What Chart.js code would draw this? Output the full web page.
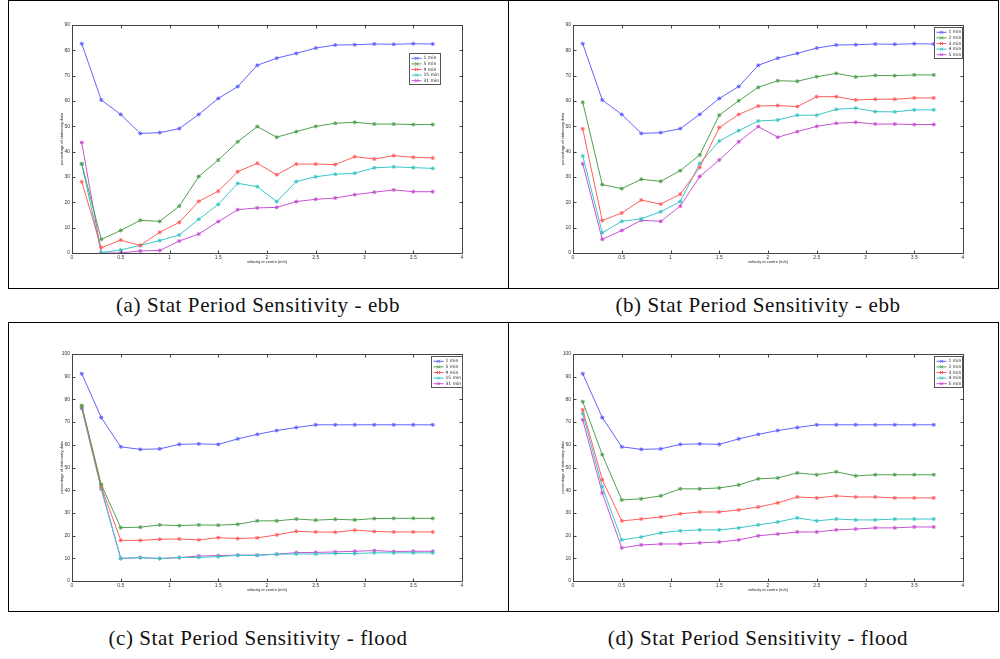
<!DOCTYPE html>
<html lang="en">
<head>
    <meta charset="UTF-8"/>
    <title>Stat Period Sensitivity</title>
    <script src="https://cdn.jsdelivr.net/npm/chart.js"></script>
    <style>
        body { margin: 0; width: 1000px; height: 659px; background: #fff; position: relative; overflow: hidden; }
        .rule { position: absolute; background: #000; }
        .panel { position: absolute; }
        .caption { position: absolute; width: 500px; text-align: center; font-family: "Liberation Serif", serif; font-size: 21px; letter-spacing: 0.6px; color: #111; }
    </style>
</head>
<body>
    <!-- table rules -->
    <div class="rule" style="left:8px; top:0; width:991px; height:1px"></div>
    <div class="rule" style="left:8px; top:288px; width:991px; height:1px"></div>
    <div class="rule" style="left:8px; top:0; width:1px; height:289px"></div>
    <div class="rule" style="left:508px; top:0; width:1px; height:289px"></div>
    <div class="rule" style="left:998px; top:0; width:1px; height:289px"></div>
    <div class="rule" style="left:8px; top:322px; width:991px; height:1px"></div>
    <div class="rule" style="left:8px; top:611px; width:991px; height:1px"></div>
    <div class="rule" style="left:8px; top:322px; width:1px; height:290px"></div>
    <div class="rule" style="left:508px; top:322px; width:1px; height:290px"></div>
    <div class="rule" style="left:998px; top:322px; width:1px; height:290px"></div>

    <div class="panel" style="left:50px; top:14px; width:430px; height:256px"><canvas id="ebbA"></canvas></div>
    <div class="panel" style="left:551px; top:14px; width:430px; height:256px"><canvas id="ebbB"></canvas></div>
    <div class="panel" style="left:50px; top:343px; width:430px; height:255px"><canvas id="floodC"></canvas></div>
    <div class="panel" style="left:551px; top:343px; width:430px; height:255px"><canvas id="floodD"></canvas></div>

    <div class="caption" style="left:8px; top:293px">(a) Stat Period Sensitivity - ebb</div>
    <div class="caption" style="left:508px; top:293px">(b) Stat Period Sensitivity - ebb</div>
    <div class="caption" style="left:8px; top:626px">(c) Stat Period Sensitivity - flood</div>
    <div class="caption" style="left:508px; top:626px">(d) Stat Period Sensitivity - flood</div>

    <script>
        // velocity bins (m/s)
        const velocity = [0.1, 0.3, 0.5, 0.7, 0.9, 1.1, 1.3, 1.5, 1.7, 1.9, 2.1, 2.3, 2.5, 2.7, 2.9, 3.1, 3.3, 3.5, 3.7];
        const xTicks = [0, 0.5, 1, 1.5, 2, 2.5, 3, 3.5, 4];
        const yTicksEbb = [0, 10, 20, 30, 40, 50, 60, 70, 80, 90];
        const yTicksFlood = [0, 10, 20, 30, 40, 50, 60, 70, 80, 90, 100];

        const labelsWide = ['1 min', '5 min', '9 min', '15 min', '31 min'];
        const labelsFine = ['1 min', '2 min', '3 min', '4 min', '5 min'];

        // ebb tide
        const ebb1 = [82.6, 60.4, 54.7, 47.2, 47.5, 49.1, 54.7, 61.0, 65.7, 74.1, 76.9, 78.8, 80.9, 82.1, 82.2, 82.5, 82.4, 82.6, 82.5];
        const ebb2 = [59.5, 27.0, 25.4, 29.1, 28.3, 32.5, 38.7, 54.4, 60.1, 65.4, 68.0, 67.8, 69.6, 70.9, 69.5, 70.1, 70.0, 70.3, 70.3];
        const ebb3 = [49.0, 12.8, 15.8, 20.9, 19.3, 23.2, 33.8, 49.5, 54.7, 58.0, 58.2, 57.8, 61.7, 61.7, 60.4, 60.7, 60.7, 61.2, 61.2];
        const ebb4 = [38.3, 8.0, 12.5, 13.5, 16.3, 20.3, 35.4, 44.2, 48.3, 52.1, 52.5, 54.4, 54.4, 56.7, 57.2, 55.8, 55.7, 56.5, 56.5];
        const ebb5 = [35.2, 5.4, 8.9, 12.9, 12.5, 18.5, 30.2, 36.7, 43.9, 49.9, 45.7, 47.9, 50.0, 51.2, 51.6, 50.9, 50.9, 50.7, 50.7];
        const ebb9 = [28.1, 2.1, 5.1, 3.0, 8.2, 12.1, 20.4, 24.4, 32.1, 35.4, 30.9, 35.1, 35.1, 34.9, 38.0, 37.1, 38.4, 37.8, 37.5];
        const ebb15 = [35.1, 0.1, 1.2, 3.0, 4.9, 7.1, 13.3, 19.2, 27.5, 26.2, 20.3, 28.2, 30.1, 31.1, 31.5, 33.6, 34.0, 33.7, 33.4];
        const ebb31 = [43.6, 0.0, 0.0, 0.8, 1.0, 4.7, 7.5, 12.4, 17.1, 17.8, 18.0, 20.3, 21.2, 21.7, 23.0, 24.0, 24.9, 24.2, 24.2];

        // flood tide
        const flood1 = [91.3, 72.0, 59.1, 58.0, 58.2, 60.2, 60.4, 60.2, 62.6, 64.6, 66.3, 67.6, 68.8, 68.8, 68.8, 68.8, 68.8, 68.8, 68.8];
        const flood2 = [79.0, 55.6, 35.7, 36.2, 37.5, 40.6, 40.6, 41.0, 42.3, 45.0, 45.4, 47.6, 46.8, 48.1, 46.3, 46.8, 46.8, 46.8, 46.8];
        const flood3 = [75.4, 44.6, 26.5, 27.3, 28.2, 29.6, 30.4, 30.4, 31.3, 32.6, 34.4, 37.0, 36.6, 37.5, 37.0, 37.0, 36.6, 36.6, 36.6];
        const flood4 = [73.7, 41.5, 18.1, 19.4, 21.2, 22.1, 22.5, 22.5, 23.4, 24.7, 26.0, 27.8, 26.5, 27.3, 26.9, 26.9, 27.3, 27.3, 27.3];
        const flood5 = [77.3, 42.5, 23.5, 23.7, 24.7, 24.4, 24.7, 24.6, 25.0, 26.5, 26.5, 27.3, 26.8, 27.2, 26.9, 27.5, 27.6, 27.6, 27.6];
        const flood5b = [71.0, 38.8, 14.6, 15.9, 16.3, 16.3, 16.8, 17.2, 18.1, 19.9, 20.7, 21.6, 21.6, 22.5, 22.9, 23.4, 23.4, 23.8, 23.8];
        const flood9 = [77.0, 41.5, 17.9, 17.9, 18.4, 18.5, 18.1, 19.1, 18.7, 19.0, 20.3, 21.9, 21.6, 21.5, 22.4, 21.8, 21.6, 21.6, 21.6];
        const flood15 = [76.5, 41.0, 10.0, 10.3, 9.9, 10.3, 10.4, 10.7, 11.3, 11.3, 11.8, 11.9, 11.9, 12.1, 12.1, 12.4, 12.4, 12.4, 12.4];
        const flood31 = [76.0, 40.5, 9.9, 10.3, 9.9, 10.3, 11.0, 11.2, 11.4, 11.4, 11.8, 12.5, 12.6, 12.8, 13.1, 13.4, 13.0, 13.1, 13.1];

        // matlab-ish line colours
        const colors = ['#6262ff', '#52a052', '#ff5f5f', '#3cc6c6', '#c653d2'];

        // box round the axes, inward ticks and a small legend inside the plot
        const matlabBox = {
            id: 'matlabBox',
            afterDatasetsDraw(chart, args, opts) {
                const { ctx, chartArea: a, scales } = chart;
                ctx.save();
                ctx.strokeStyle = '#444';
                ctx.lineWidth = 1;
                const L = Math.round(a.left) + 0.5, R = Math.round(a.right) + 0.5;
                const T = Math.round(a.top) + 0.5, B = Math.round(a.bottom) + 0.5;
                ctx.strokeRect(L, T, R - L, B - T);
                ctx.beginPath();
                scales.x.ticks.forEach(t => {
                    const px = Math.round(scales.x.getPixelForValue(t.value)) + 0.5;
                    ctx.moveTo(px, B); ctx.lineTo(px, B - 3);
                    ctx.moveTo(px, T); ctx.lineTo(px, T + 3);
                });
                scales.y.ticks.forEach(t => {
                    const py = Math.round(scales.y.getPixelForValue(t.value)) + 0.5;
                    ctx.moveTo(L, py); ctx.lineTo(L + 3, py);
                    ctx.moveTo(R, py); ctx.lineTo(R - 3, py);
                });
                ctx.stroke();

                // legend
                const sets = chart.data.datasets;
                const rowH = 5.6, boxW = opts.width, boxH = sets.length * rowH + 3;
                const bx = Math.round(a.right - opts.right - boxW) + 0.5;
                const by = Math.round(a.top + opts.top) + 0.5;
                ctx.fillStyle = '#fff';
                ctx.fillRect(bx, by, boxW, boxH);
                ctx.strokeStyle = '#555';
                ctx.strokeRect(bx, by, boxW, boxH);
                ctx.font = '4.5px "DejaVu Sans", sans-serif';
                ctx.textBaseline = 'middle';
                sets.forEach((ds, i) => {
                    const cy = by + 2 + rowH * (i + 0.5);
                    ctx.strokeStyle = ds.borderColor;
                    ctx.beginPath();
                    ctx.moveTo(bx + 2, cy); ctx.lineTo(bx + 12, cy);
                    ctx.moveTo(bx + 5.5, cy - 1.5); ctx.lineTo(bx + 8.5, cy + 1.5);
                    ctx.moveTo(bx + 5.5, cy + 1.5); ctx.lineTo(bx + 8.5, cy - 1.5);
                    ctx.stroke();
                    ctx.fillStyle = '#222';
                    ctx.fillText(ds.label, bx + 14, cy);
                });
                ctx.restore();
            }
        };

        function makeChart(id, labels, series, yTicks, legendPos) {
            const yMax = yTicks[yTicks.length - 1];
            new Chart(document.getElementById(id), {
                type: 'line',
                data: {
                    datasets: series.map((s, i) => ({
                        label: labels[i],
                        data: velocity.map((v, k) => ({ x: v, y: s[k] })),
                        borderColor: colors[i],
                        backgroundColor: colors[i],
                        borderWidth: 1,
                        pointStyle: 'star',
                        pointRadius: 2,
                        pointBorderWidth: 1,
                        tension: 0
                    }))
                },
                options: {
                    animation: false,
                    responsive: true,
                    maintainAspectRatio: false,
                    devicePixelRatio: 1,
                    layout: { padding: { left: 9, right: 18, top: 11, bottom: 0 } },
                    plugins: {
                        legend: { display: false },
                        tooltip: { enabled: false },
                        matlabBox: legendPos
                    },
                    scales: {
                        x: {
                            type: 'linear', min: 0, max: 4,
                            afterBuildTicks: s => { s.ticks = xTicks.map(v => ({ value: v })); },
                            afterFit: s => { s.height = 17; },
                            grid: { display: false, drawTicks: false },
                            border: { display: false },
                            ticks: { padding: 2, font: { size: 5 }, color: '#333', callback: v => String(v) },
                            title: { display: true, text: 'velocity at centre (m/s)', font: { size: 4 }, color: '#222', padding: { top: 6, bottom: 6 } }
                        },
                        y: {
                            min: 0, max: yMax,
                            afterBuildTicks: s => { s.ticks = yTicks.map(v => ({ value: v })); },
                            afterFit: s => { s.width = 13; },
                            grid: { display: false, drawTicks: false },
                            border: { display: false },
                            ticks: { padding: 2, font: { size: 5 }, color: '#333', callback: v => String(v) },
                            title: { display: true, text: 'percentage of stationary data', font: { size: 4 }, color: '#222', padding: 0 }
                        }
                    }
                },
                plugins: [matlabBox]
            });
        }

        makeChart('ebbA', labelsWide, [ebb1, ebb5, ebb9, ebb15, ebb31], yTicksEbb, { width: 31, right: 22, top: 28 });
        makeChart('ebbB', labelsFine, [ebb1, ebb2, ebb3, ebb4, ebb5], yTicksEbb, { width: 28, right: 1, top: 2 });
        makeChart('floodC', labelsWide, [flood1, flood5, flood9, flood15, flood31], yTicksFlood, { width: 31, right: 0, top: 2 });
        makeChart('floodD', labelsFine, [flood1, flood2, flood3, flood4, flood5b], yTicksFlood, { width: 28, right: 1, top: 2 });
    </script>
</body>
</html>
